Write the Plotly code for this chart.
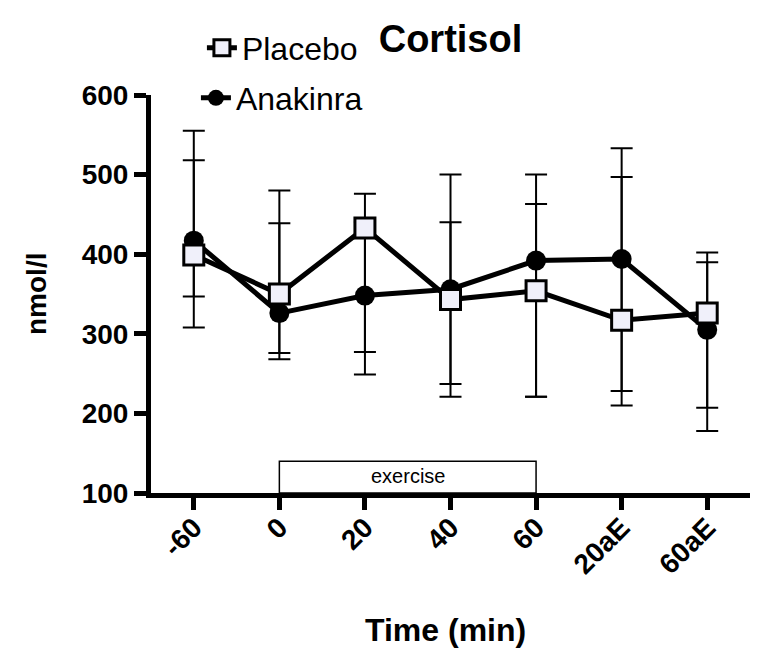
import numpy as np
import plotly.graph_objects as go

# ---- data ----
time_labels = ["-60", "0", "20", "40", "60", "20aE", "60aE"]

placebo_mean = [399, 350, 433, 343, 354, 317, 326]
placebo_upper = [518, 480, 476, 440, 463, 497, 390]
placebo_lower = [347, 268, 277, 237, 221, 228, 207]

anakinra_mean = [417, 326, 348, 356, 392, 394, 305]
anakinra_upper = [555, 439, 440, 500, 500, 533, 402]
anakinra_lower = [308, 276, 249, 221, 221, 210, 178]

y_ticks = [100, 200, 300, 400, 500, 600]
exercise_span = ["0", "60"]
exercise_label = "exercise"

# ---- figure ----
FONT = "Liberation Sans, Arial, Helvetica, sans-serif"
xpos = list(range(len(time_labels)))


def err(mean, upper, lower):
    m = np.array(mean, float)
    return dict(type="data", symmetric=False,
                array=(np.array(upper, float) - m).tolist(),
                arrayminus=(m - np.array(lower, float)).tolist(),
                color="black", thickness=2, width=11)


fig = go.Figure()
fig.add_trace(go.Scatter(
    x=xpos, y=anakinra_mean, name="Anakinra", mode="lines+markers",
    line=dict(color="black", width=5),
    marker=dict(symbol="circle", size=20, color="black"),
    error_y=err(anakinra_mean, anakinra_upper, anakinra_lower),
    legend="legend2"))
fig.add_trace(go.Scatter(
    x=xpos, y=placebo_mean, name="Placebo", mode="lines+markers",
    line=dict(color="black", width=5),
    marker=dict(symbol="square", size=20, color="#f0f0fa",
                line=dict(color="black", width=3)),
    error_y=err(placebo_mean, placebo_upper, placebo_lower),
    legend="legend"))

# exercise box
x0 = time_labels.index(exercise_span[0])
x1 = time_labels.index(exercise_span[1])
fig.add_shape(type="rect", xref="x", yref="y", x0=x0, x1=x1, y0=100, y1=140,
              line=dict(color="black", width=1.5), fillcolor="white", layer="below")
fig.add_annotation(x=(x0 + x1) / 2, y=121, xref="x", yref="y", text=exercise_label,
                   showarrow=False, font=dict(family=FONT, size=20, color="black"))

# axis titles as annotations
fig.add_annotation(x=-0.192, y=0.5, xref="paper", yref="paper", text="nmol/l",
                   textangle=-90, showarrow=False, xanchor="center", yanchor="middle",
                   font=dict(family=FONT, size=28, color="black", weight="bold"))
fig.add_annotation(x=0.492, y=-0.345, xref="paper", yref="paper", text="Time (min)",
                   showarrow=False, xanchor="center", yanchor="middle",
                   font=dict(family=FONT, size=32, color="black", weight="bold"))

legend_common = dict(font=dict(family=FONT, size=32, color="black"),
                     bgcolor="rgba(0,0,0,0)", borderwidth=0,
                     xref="paper", yref="paper", xanchor="left", yanchor="middle",
                     itemwidth=30)

fig.update_layout(
    width=761, height=655,
    margin=dict(l=143, r=19, t=87, b=170, autoexpand=False),
    paper_bgcolor="white", plot_bgcolor="white",
    title=dict(text="<b>Cortisol</b>", x=0.5, xref="paper", y=0.953, yref="container",
               xanchor="center", yanchor="middle",
               font=dict(family=FONT, size=38, color="black")),
    showlegend=True,
    legend=dict(x=0.085, y=1.118, **legend_common),
    legend2=dict(x=0.075, y=0.9925, **legend_common),
    xaxis=dict(range=[-0.5, 6.5], tickmode="array", tickvals=xpos, ticktext=time_labels,
               tickangle=-45, showgrid=False, zeroline=False,
               showline=True, linecolor="black", linewidth=5,
               ticks="outside", ticklen=12, tickwidth=5, tickcolor="black",
               ticklabelstandoff=-10,
               tickfont=dict(family=FONT, size=28, color="black", weight="bold")),
    yaxis=dict(range=[100, 600], tickmode="array", tickvals=y_ticks,
               showgrid=False, zeroline=False,
               showline=True, linecolor="black", linewidth=5,
               ticks="outside", ticklen=12, tickwidth=5, tickcolor="black",
               tickfont=dict(family=FONT, size=28, color="black", weight="bold")),
)

fig.write_html("out.html")
